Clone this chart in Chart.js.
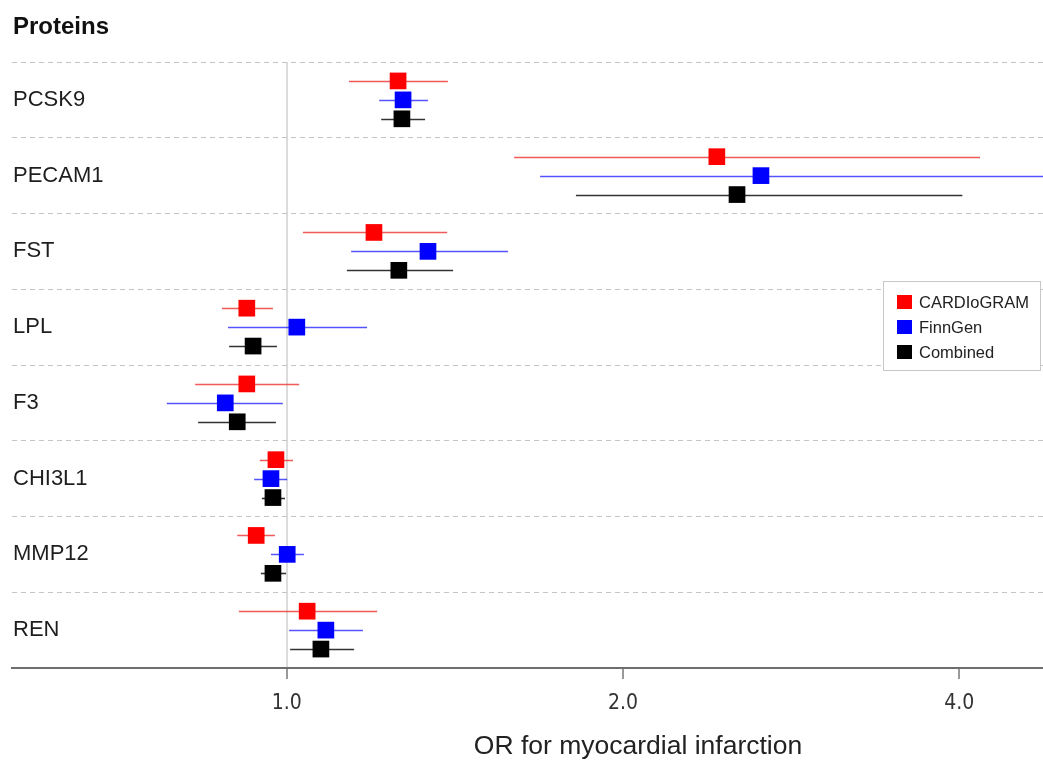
<!DOCTYPE html>
<html lang="en">
<head>
<meta charset="UTF-8"/>
<title>OR for myocardial infarction – proteins</title>
<script src="https://cdn.jsdelivr.net/npm/chart.js"></script>
<style>
  html, body { margin: 0; padding: 0; background: #fff; overflow: hidden; }
  #wrap { width: 1043px; height: 763px; position: relative; }
  canvas { display: block; }
</style>
</head>
<body>
<div id="wrap"><canvas id="forest"></canvas></div>
<script>
// rows, top to bottom
const proteins = ['PCSK9', 'PECAM1', 'FST', 'LPL', 'F3', 'CHI3L1', 'MMP12', 'REN'];
const seriesNames = ['CARDIoGRAM', 'FinnGen', 'Combined'];
const seriesColors = ['#ff0000', '#0000ff', '#000000'];
const ciColors = ['rgba(240,60,60,0.85)', 'rgba(40,40,255,0.8)', 'rgba(0,0,0,0.8)'];

// odds ratios and 95% CI
const cardiogramOR = [1.258, 2.427, 1.197, 0.921, 0.921, 0.978, 0.939, 1.043];
const cardiogramLo = [1.137, 1.598, 1.034, 0.875, 0.828, 0.946, 0.903, 0.906];
const cardiogramHi = [1.394, 4.175, 1.392, 0.972, 1.026, 1.013, 0.976, 1.205];

const finngenOR = [1.271, 2.658, 1.338, 1.021, 0.881, 0.968, 1.001, 1.084];
const finngenLo = [1.210, 1.686, 1.142, 0.886, 0.781, 0.935, 0.968, 1.005];
const finngenHi = [1.338, 5.200, 1.578, 1.180, 0.992, 1.001, 1.036, 1.170];

const combinedOR = [1.268, 2.530, 1.260, 0.933, 0.903, 0.972, 0.972, 1.073];
const combinedLo = [1.215, 1.815, 1.132, 0.888, 0.833, 0.950, 0.948, 1.007];
const combinedHi = [1.330, 4.026, 1.409, 0.980, 0.978, 0.9965, 0.9986, 1.149];

const xTicks = [1, 2, 4];
const xTitle = 'OR for myocardial infarction';

const orSets = [cardiogramOR, finngenOR, combinedOR];
const loSets = [cardiogramLo, finngenLo, combinedLo];
const hiSets = [cardiogramHi, finngenHi, combinedHi];
const rowShift = s => (s - 1) * 0.25;

const datasets = seriesNames.map((name, s) => ({
  label: name,
  data: orSets[s].map((v, i) => ({ x: v, y: i + rowShift(s) })),
  backgroundColor: seriesColors[s],
  borderWidth: 0,
  pointStyle: 'rect',
  pointRadius: 11.8,
  pointHoverRadius: 11.8
}));

const decor = {
  id: 'decor',
  beforeDatasetsDraw(chart) {
    const { ctx, chartArea: a, scales: { x, y } } = chart;
    ctx.save();
    ctx.beginPath();
    ctx.rect(a.left, a.top, a.right - a.left, a.bottom - a.top);
    ctx.clip();
    ctx.lineWidth = 1.6;
    seriesNames.forEach((n, s) => {
      ctx.strokeStyle = ciColors[s];
      proteins.forEach((p, i) => {
        const py = Math.round(y.getPixelForValue(i + rowShift(s))) + 0.5;
        ctx.beginPath();
        ctx.moveTo(x.getPixelForValue(loSets[s][i]), py);
        ctx.lineTo(x.getPixelForValue(hiSets[s][i]), py);
        ctx.stroke();
      });
    });
    ctx.restore();
  },
  afterDraw(chart) {
    const { ctx } = chart;
    ctx.save();
    ctx.fillStyle = '#111';
    ctx.font = 'bold 24px "Liberation Sans", Arial, sans-serif';
    ctx.textBaseline = 'middle';
    ctx.fillText('Proteins', 13, 27);

    ctx.fillStyle = '#222';
    ctx.font = '26.5px "Liberation Sans", Arial, sans-serif';
    ctx.textAlign = 'center';
    ctx.fillText(xTitle, 638, 747);

    // legend box
    ctx.textAlign = 'left';
    ctx.fillStyle = '#fff';
    ctx.fillRect(883, 281, 157, 89);
    ctx.strokeStyle = '#c8c8c8';
    ctx.lineWidth = 1;
    ctx.strokeRect(883.5, 281.5, 157, 89);
    ctx.font = '16.5px "Liberation Sans", Arial, sans-serif';
    seriesNames.forEach((n, s) => {
      const cy = 302 + s * 25;
      ctx.fillStyle = seriesColors[s];
      ctx.fillRect(897, cy - 7, 15, 14);
      ctx.fillStyle = '#222';
      ctx.fillText(n, 919, cy + 1);
    });
    ctx.restore();
  }
};

new Chart(document.getElementById('forest'), {
  type: 'scatter',
  data: { datasets },
  options: {
    responsive: true,
    maintainAspectRatio: false,
    animation: false,
    events: [],
    layout: { autoPadding: false, padding: { left: 12, right: 0, top: 62, bottom: 0 } },
    plugins: { legend: { display: false }, tooltip: { enabled: false }, title: { display: false } },
    scales: {
      x: {
        type: 'logarithmic',
        min: 0.5676,
        max: 4.754,
        bounds: 'data',
        afterBuildTicks: sc => { sc.ticks = xTicks.map(v => ({ value: v })); },
        afterFit: sc => { sc.height = 95; sc.paddingLeft = 0; sc.paddingRight = 0; },
        ticks: {
          callback: v => Number(v).toFixed(1),
          font: { family: '"DejaVu Sans Condensed", "Liberation Sans Narrow", sans-serif', size: 21 },
          color: '#333',
          padding: 12,
          maxRotation: 0,
          autoSkip: false
        },
        grid: {
          color: c => (c.tick && c.tick.value === 1) ? '#dcdcdc' : 'rgba(0,0,0,0)',
          lineWidth: 2,
          drawOnChartArea: true,
          tickLength: 11,
          tickColor: '#777',
          tickWidth: 1.5
        },
        border: { display: true, color: '#6e6e6e', width: 2 }
      },
      y: {
        type: 'linear',
        position: 'left',
        reverse: true,
        min: -0.5,
        max: 7.5,
        afterBuildTicks: sc => { sc.ticks = proteins.map((p, i) => ({ value: i })); },
        afterFit: sc => { sc.width = 0; sc.paddingTop = 0; sc.paddingBottom = 0; },
        ticks: {
          mirror: true,
          padding: 1,
          callback: v => proteins[v],
          font: { family: '"Liberation Sans", Arial, sans-serif', size: 22 },
          color: '#1e1e1e'
        },
        grid: { display: false },
        border: { display: false }
      },
      ySep: {
        type: 'linear',
        position: 'left',
        reverse: true,
        min: -0.5,
        max: 7.5,
        afterBuildTicks: sc => { sc.ticks = proteins.map((p, i) => ({ value: i - 0.5 })); },
        afterFit: sc => { sc.width = 0; sc.paddingTop = 0; sc.paddingBottom = 0; },
        ticks: { display: false },
        grid: { color: '#c4c4c4', lineWidth: 1, drawTicks: false },
        border: { display: false, dash: [5, 4] }
      }
    }
  },
  plugins: [decor]
});
</script>
</body>
</html>
